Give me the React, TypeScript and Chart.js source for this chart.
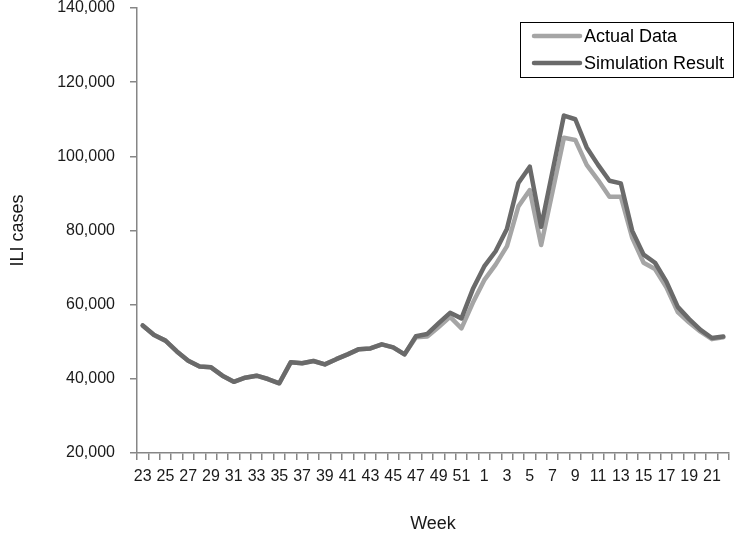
import React, { useEffect, useRef } from "react";
import { Chart, registerables } from "chart.js";

Chart.register(...registerables);

const weeks: string[] = [
  "23", "24", "25", "26", "27", "28", "29", "30", "31", "32", "33", "34", "35", "36", "37",
  "38", "39", "40", "41", "42", "43", "44", "45", "46", "47", "48", "49", "50", "51", "52",
  "1", "2", "3", "4", "5", "6", "7", "8", "9", "10", "11", "12", "13", "14", "15", "16",
  "17", "18", "19", "20", "21", "22",
];

const actualData: number[] = [
  54400, 51800, 50300, 47400, 44900, 43300, 43100, 40850, 39200, 40300, 40850, 39950, 38800, 44450, 44200,
  44800, 43900, 45300, 46600, 48000, 48200, 49300, 48500, 46600, 51200, 51400, 54000, 56700, 53600, 60500,
  66600, 70800, 75800, 86500, 90900, 76100, 90500, 105000, 104400, 97700, 93600, 89100, 89100, 78000, 71300, 69600,
  64700, 58000, 55200, 52700, 50700, 51200,
];

const simulationResult: number[] = [
  54400, 51800, 50300, 47400, 44900, 43300, 43100, 40850, 39200, 40300, 40850, 39950, 38800, 44450, 44200,
  44800, 43900, 45300, 46600, 48000, 48200, 49300, 48500, 46600, 51500, 52100, 55000, 57800, 56300, 64200,
  70300, 74400, 80500, 92800, 97200, 81000, 96000, 111000, 110000, 102400, 97700, 93400, 92700, 79900, 73500, 71300,
  66200, 59400, 56100, 53200, 51000, 51400,
];

const yMin = 20000;
const yMax = 140000;
const yStep = 20000;

const axisColor = "#868686";
const textColor = "#1a1a1a";
const fontFamily = "'Liberation Sans', Arial, sans-serif";

const boxLegend = {
  id: "boxLegend",
  afterDraw(chart: any) {
    const { ctx, chartArea } = chart;
    const w = 213;
    const h = 55;
    const x = chartArea.right - 209;
    const y = chartArea.top + 14;
    ctx.save();
    ctx.fillStyle = "#ffffff";
    ctx.fillRect(x, y, w, h);
    ctx.strokeStyle = "#000000";
    ctx.lineWidth = 1;
    ctx.strokeRect(x + 0.5, y + 0.5, w, h);
    ctx.font = `18px ${fontFamily}`;
    ctx.textBaseline = "middle";
    ctx.textAlign = "left";
    chart.data.datasets.forEach((ds: any, i: number) => {
      const cy = y + 14 + i * 27;
      ctx.strokeStyle = ds.borderColor;
      ctx.lineWidth = 4.5;
      ctx.lineCap = "round";
      ctx.beginPath();
      ctx.moveTo(x + 14, cy);
      ctx.lineTo(x + 60, cy);
      ctx.stroke();
      ctx.fillStyle = "#000000";
      ctx.fillText(ds.label, x + 64, cy + 1);
    });
    ctx.restore();
  },
};

export default function App() {
  const canvasRef = useRef<HTMLCanvasElement | null>(null);

  useEffect(() => {
    if (!canvasRef.current) return;
    const chart = new Chart(canvasRef.current, {
      type: "line",
      data: {
        labels: weeks,
        datasets: [
          {
            label: "Actual Data",
            data: actualData,
            borderColor: "#a5a5a5",
            backgroundColor: "#a5a5a5",
            borderWidth: 4.5,
            pointRadius: 0,
            tension: 0,
            borderJoinStyle: "round",
            borderCapStyle: "round",
            order: 1,
          },
          {
            label: "Simulation Result",
            data: simulationResult,
            borderColor: "#6a6a6a",
            backgroundColor: "#6a6a6a",
            borderWidth: 4.5,
            pointRadius: 0,
            tension: 0,
            borderJoinStyle: "round",
            borderCapStyle: "round",
            order: 0,
          },
        ],
      },
      options: {
        animation: false,
        responsive: false,
        maintainAspectRatio: false,
        layout: { padding: { top: 8, right: 11, left: 0, bottom: 0 } },
        plugins: {
          legend: { display: false },
          tooltip: { enabled: false },
        },
        scales: {
          x: {
            type: "category",
            offset: true,
            grid: {
              offset: true,
              drawOnChartArea: false,
              drawTicks: true,
              tickLength: 7,
              color: axisColor,
              lineWidth: 1.5,
            },
            border: { color: axisColor, width: 1.5 },
            ticks: {
              autoSkip: false,
              maxRotation: 0,
              minRotation: 0,
              padding: 7,
              color: textColor,
              font: { family: fontFamily, size: 16 },
              callback: (_v: any, i: number) => (i % 2 === 0 ? weeks[i] : ""),
            },
            title: {
              display: true,
              text: "Week",
              color: textColor,
              font: { family: fontFamily, size: 18 },
              padding: { top: 0, bottom: 0 },
            },
            afterFit: (s: any) => {
              s.height = 82;
              s.paddingLeft = 0;
              s.paddingRight = 0;
            },
          },
          y: {
            min: yMin,
            max: yMax,
            grid: {
              drawOnChartArea: false,
              drawTicks: true,
              tickLength: 7,
              color: axisColor,
              lineWidth: 1.5,
            },
            border: { color: axisColor, width: 1.5 },
            ticks: {
              stepSize: yStep,
              padding: 15,
              color: textColor,
              font: { family: fontFamily, size: 16 },
              callback: (v: any) => Number(v).toLocaleString("en-US"),
            },
            title: {
              display: true,
              text: "ILI cases",
              color: textColor,
              font: { family: fontFamily, size: 18 },
              padding: { top: 7, bottom: 0 },
            },
            afterFit: (s: any) => {
              s.width = 137;
              s.paddingTop = 0;
              s.paddingBottom = 0;
            },
          },
        },
      },
      plugins: [boxLegend],
    });
    return () => chart.destroy();
  }, []);

  return (
    <div style={{ position: "fixed", left: 0, top: 0, width: 740, height: 535, background: "#fff" }}>
      <canvas ref={canvasRef} width={740} height={535} style={{ display: "block" }} />
    </div>
  );
}
